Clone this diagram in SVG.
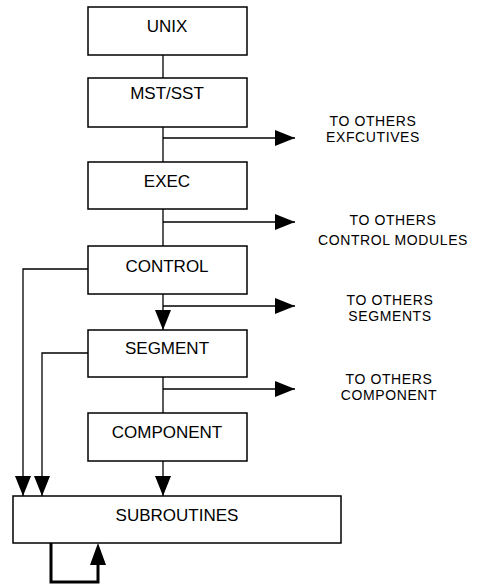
<svg xmlns="http://www.w3.org/2000/svg" width="478" height="584" viewBox="0 0 478 584">
<style>
.box{fill:#fff;stroke:#000;stroke-width:1.5}
.lbl{font-family:"Liberation Sans",Arial,sans-serif;font-size:17px;text-anchor:middle;fill:#000}
.note{font-family:"Liberation Sans",Arial,sans-serif;font-size:14px;letter-spacing:0.6px;text-anchor:middle;fill:#000}
.ln{fill:none;stroke:#000;stroke-width:1.3}
.arr{marker-end:url(#ah)}
.thick{fill:none;stroke:#000;stroke-width:3}
</style>
<defs>
<marker id="ah" markerUnits="userSpaceOnUse" viewBox="0 0 20 16" refX="20" refY="8" markerWidth="20" markerHeight="16" orient="auto">
<path d="M0,0 L20,8 L0,16 z" fill="#000"/>
</marker>
</defs>
<rect width="478" height="584" fill="#fff"/>
<g id="connectors">
<line class="ln" x1="163" y1="55" x2="163" y2="78"/>
<line class="ln" x1="163" y1="127" x2="163" y2="162"/>
<line class="ln" x1="163" y1="209" x2="163" y2="246"/>
<line class="ln arr" x1="163" y1="294" x2="163" y2="330"/>
<line class="ln" x1="163" y1="377" x2="163" y2="413"/>
<line class="ln arr" x1="163" y1="461" x2="163" y2="496"/>
<line class="ln arr" x1="163" y1="138" x2="295" y2="138"/>
<line class="ln arr" x1="163" y1="222" x2="295" y2="222"/>
<line class="ln arr" x1="163" y1="306" x2="295" y2="306"/>
<line class="ln arr" x1="163" y1="389" x2="295" y2="389"/>
<polyline class="ln arr" points="88,269 23,269 23,496"/>
<polyline class="ln arr" points="88,353 42,353 42,496"/>
<polyline class="thick" points="51,543 51,582 98,582 98,563"/>
<path d="M90,565 L98,543 L106,565 z" fill="#000"/>
</g>
<g id="unix"><rect class="box" x="88" y="7" width="159" height="48"/><text class="lbl" x="167" y="32">UNIX</text></g>
<g id="mst"><rect class="box" x="88" y="78" width="159" height="49"/><text class="lbl" x="167" y="99">MST/SST</text></g>
<g id="exec"><rect class="box" x="88" y="162" width="159" height="47"/><text class="lbl" x="167" y="187">EXEC</text></g>
<g id="control"><rect class="box" x="88" y="246" width="159" height="48"/><text class="lbl" x="167" y="272">CONTROL</text></g>
<g id="segment"><rect class="box" x="88" y="330" width="159" height="47"/><text class="lbl" x="167" y="354">SEGMENT</text></g>
<g id="component"><rect class="box" x="88" y="413" width="159" height="48"/><text class="lbl" x="167" y="438">COMPONENT</text></g>
<g id="subroutines"><rect class="box" x="13" y="496" width="328" height="47"/><text class="lbl" x="177" y="521">SUBROUTINES</text></g>
<g id="note1"><text class="note" x="373" y="126">TO OTHERS</text><text class="note" x="373" y="142">EXFCUTIVES</text></g>
<g id="note2"><text class="note" x="393" y="225">TO OTHERS</text><text class="note" x="393" y="245">CONTROL MODULES</text></g>
<g id="note3"><text class="note" x="390" y="305">TO OTHERS</text><text class="note" x="390" y="321">SEGMENTS</text></g>
<g id="note4"><text class="note" x="389" y="384">TO OTHERS</text><text class="note" x="389" y="400">COMPONENT</text></g>
</svg>
